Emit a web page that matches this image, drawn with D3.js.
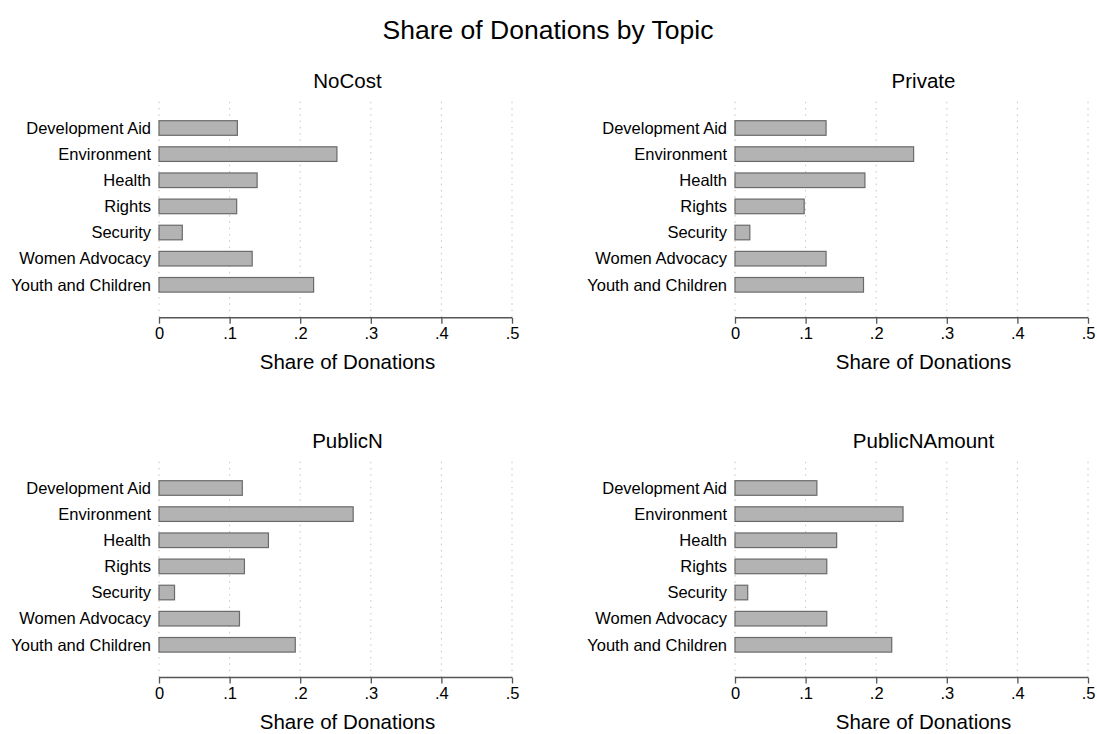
<!DOCTYPE html>
<html>
<head>
<meta charset="utf-8">
<script src="https://cdn.jsdelivr.net/npm/d3@7"></script>
<style>
  body { margin: 0; background: #fff; }
  text { font-family: "Liberation Sans", Arial, sans-serif; fill: #000; }
</style>
</head>
<body>
<div id="chart"></div>
<script>
var topics = ["Development Aid", "Environment", "Health", "Rights", "Security", "Women Advocacy", "Youth and Children"];
var panelNames = ["NoCost", "Private", "PublicN", "PublicNAmount"];
var noCost = [0.111, 0.252, 0.139, 0.110, 0.033, 0.132, 0.219];
var privateShare = [0.129, 0.253, 0.184, 0.098, 0.021, 0.129, 0.182];
var publicN = [0.118, 0.275, 0.155, 0.121, 0.022, 0.114, 0.193];
var publicNAmount = [0.116, 0.238, 0.144, 0.130, 0.018, 0.130, 0.222];
var xTicks = [0, 0.1, 0.2, 0.3, 0.4, 0.5];
var seriesList = [noCost, privateShare, publicN, publicNAmount];

var svg = d3.select("#chart")
  .append("svg")
  .attr("width", 1097)
  .attr("height", 734);

svg.append("rect").attr("width", 1097).attr("height", 734).attr("fill", "#fff");

svg.append("text")
  .attr("x", 548)
  .attr("y", 30)
  .attr("dy", "0.35em")
  .attr("text-anchor", "middle")
  .style("font-size", "26.5px")
  .text("Share of Donations by Topic");

// left edge of each plot and the y of its x-axis line
var plotLeft = [159, 735];
var axisY = [317.7, 677.5];
var rowShift = [0, 360];

panelNames.forEach(function(name, i) {
  var col = i % 2, row = Math.floor(i / 2);
  var left = plotLeft[col];
  var base = axisY[row];
  var top = 101.7 + rowShift[row];
  var g = svg.append("g");

  var xScale = d3.scaleLinear().domain([0, 0.5]).range([left, left + 353]);
  var yScale = d3.scalePoint().domain(topics).range([128 + rowShift[row], 284.8 + rowShift[row]]);

  // dotted grid
  g.selectAll(".grid")
    .data(xTicks)
    .enter()
    .append("line")
    .attr("x1", function(d) {return xScale(d);})
    .attr("x2", function(d) {return xScale(d);})
    .attr("y1", top)
    .attr("y2", base)
    .attr("stroke", "#c4c4c4")
    .attr("stroke-width", 1)
    .attr("stroke-dasharray", "1.5,4.8");

  g.selectAll(".bar")
    .data(seriesList[i])
    .enter()
    .append("rect")
    .attr("x", xScale(0))
    .attr("y", function(d, j) {return yScale(topics[j]) - 7.3;})
    .attr("width", function(d) {return xScale(d) - xScale(0);})
    .attr("height", 14.6)
    .attr("fill", "#b3b3b3")
    .attr("stroke", "#6a6a6a")
    .attr("stroke-width", 1.2);

  // category labels
  g.selectAll(".lab")
    .data(topics)
    .enter()
    .append("text")
    .attr("x", left - 8)
    .attr("y", function(d) {return yScale(d);})
    .attr("dy", "0.35em")
    .attr("text-anchor", "end")
    .style("font-size", "16.5px")
    .text(function(d) {return d;});

  var xAxis = d3.axisBottom(xScale)
    .tickValues(xTicks)
    .tickSize(6)
    .tickPadding(4)
    .tickFormat(function(d) {return d === 0 ? "0" : String(d).replace("0.", ".");});
  var ax = g.append("g")
    .attr("transform", "translate(0," + base + ")")
    .call(xAxis);
  ax.select(".domain").attr("stroke", "#555").attr("stroke-width", 1.5).attr("d", "M" + xScale(0) + ",0H" + xScale(0.5));
  ax.selectAll(".tick line").attr("stroke", "#555").attr("stroke-width", 1.3);
  ax.selectAll(".tick text")
    .style("font-size", "16.5px")
    .style("font-family", "'Liberation Sans', Arial, sans-serif")
    .attr("fill", "#000");

  var mid = xScale(0.25) + 12;
  g.append("text")
    .attr("x", mid)
    .attr("y", 81 + rowShift[row])
    .attr("dy", "0.35em")
    .attr("text-anchor", "middle")
    .style("font-size", "20.5px")
    .text(name);

  g.append("text")
    .attr("x", mid)
    .attr("y", base + 44.5)
    .attr("dy", "0.35em")
    .attr("text-anchor", "middle")
    .style("font-size", "20.5px")
    .text("Share of Donations");
});
</script>
</body>
</html>
